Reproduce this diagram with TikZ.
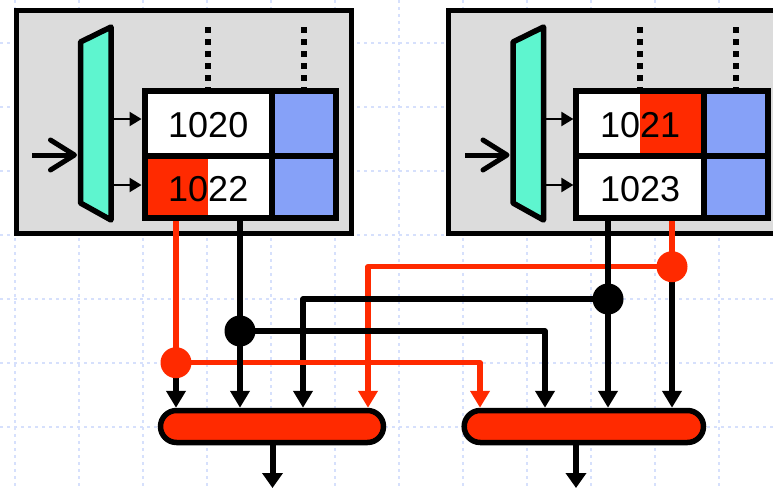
\documentclass[tikz,border=0pt]{standalone}
\usepackage{fontspec}
\setmainfont{Liberation Sans}
\usetikzlibrary{arrows.meta}
\definecolor{redc}{RGB}{255,42,0}
\definecolor{bluec}{RGB}{134,161,248}
\definecolor{aquac}{RGB}{94,245,207}
\definecolor{grayc}{RGB}{220,220,220}
\definecolor{gridc}{RGB}{214,224,252}
\begin{document}
\begin{tikzpicture}[x=1pt,y=-1pt,
  gridl/.style={draw=gridc,line width=1.1pt,dash pattern=on 3pt off 4pt},
  panel/.style={draw,line width=5pt,fill=grayc,rectangle,inner sep=0pt,outer sep=0pt},
  muxst/.style={draw,line width=5.5pt,fill=aquac,line join=round},
  inarrow/.style={line width=5pt,-{Straight Barb[length=24pt,width=30pt,round]}},
  smallarrow/.style={line width=2.2pt,-{Triangle[length=12pt,width=14pt]}},
  cell/.style={draw,line width=6pt,rectangle,inner sep=0pt,text height=29.3pt,text depth=0pt,font=\fontsize{36}{40}\selectfont},
  widecell/.style={cell,minimum width=127.4pt},
  narrowcell/.style={cell,minimum width=64.2pt,fill=bluec},
  toprow/.style={minimum height=64.5pt},
  botrow/.style={minimum height=62.5pt},
  halfleft/.style={path picture={\fill[redc] (path picture bounding box.south west) rectangle (path picture bounding box.north);}},
  halfright/.style={path picture={\fill[redc] (path picture bounding box.south) rectangle (path picture bounding box.north east);}},
  dotline/.style={line width=6pt,dash pattern=on 6pt off 6pt},
  dotnode/.style={circle,inner sep=0pt,minimum size=31pt},
  oval/.style={draw,line width=5.5pt,fill=redc,rounded corners=16pt,minimum height=32pt,inner sep=0pt},
  blackw/.style={line width=5.2pt,draw=black,line join=round},
  redw/.style={line width=5.2pt,draw=redc,line join=round},
  blackarrow/.style={blackw,-{Triangle[length=17pt,width=19pt]}},
  redarrow/.style={redw,-{Triangle[length=17pt,width=19pt]}},
  outarrow/.style={line width=6pt,-{Triangle[length=15pt,width=20pt]}}
]
\useasboundingbox (0,0) rectangle (773,487);
% background grid
\foreach \x in {15,79,...,783} \draw[gridl] (\x,0) -- (\x,487);
\foreach \y in {43,107,...,491} \draw[gridl] (0,\y) -- (773,\y);

% panels
\node[panel,minimum width=335.7pt,minimum height=222pt] (boxL) at (183.85,122) {};
\node[panel,minimum width=351.3pt,minimum height=222pt] (boxR) at (624.35,122) {};

% multiplexers
\draw[muxst] (80.5,42) -- (111,27) -- (111,220) -- (80.5,203) -- cycle;
\draw[muxst] (513,42) -- (543.5,27) -- (543.5,220) -- (513,203) -- cycle;
\coordinate (muxLin) at (77,155);
\coordinate (muxRin) at (509.5,155);
\coordinate (inL) at (32,155);
\coordinate (inR) at (465,155);
\coordinate (muxLo1) at (113.5,119);
\coordinate (muxLo2) at (113.5,185);
\coordinate (muxRo1) at (546,119);
\coordinate (muxRo2) at (546,185);

% tables
\node[widecell,toprow,fill=white] (cellL11) at (208.25,123.25) {1020};
\node[narrowcell,toprow] (cellL12) at (304,123.25) {};
\node[widecell,botrow,fill=white,halfleft] (cellL21) at (208.25,186.75) {1022};
\node[narrowcell,botrow] (cellL22) at (304,186.75) {};
\node[widecell,toprow,fill=white,halfright] (cellR11) at (640.1,123.25) {1021};
\node[narrowcell,toprow] (cellR12) at (735.9,123.25) {};
\node[widecell,botrow,fill=white] (cellR21) at (640.1,186.75) {1023};
\node[narrowcell,botrow] (cellR22) at (735.9,186.75) {};

% input arrows and mux outputs
\draw[inarrow] (inL) -- (muxLin);
\draw[inarrow] (inR) -- (muxRin);
\draw[smallarrow] (muxLo1) -- (muxLo1 -| cellL11.west);
\draw[smallarrow] (muxLo2) -- (muxLo2 -| cellL21.west);
\draw[smallarrow] (muxRo1) -- (muxRo1 -| cellR11.west);
\draw[smallarrow] (muxRo2) -- (muxRo2 -| cellR21.west);

% dotted lines above tables
\foreach \c in {cellL11,cellL12,cellR11,cellR12}
  \draw[dotline] ([yshift=60.7pt]\c.north) -- ([yshift=-2pt]\c.north);

% ovals
\node[oval,minimum width=223pt] (ovalL) at (272,426.5) {};
\node[oval,minimum width=239.3pt] (ovalR) at (583.85,426.5) {};
\coordinate (outL) at (272.5,488);
\coordinate (outR) at (576,488);
\draw[outarrow] (outL |- ovalL.south) -- (outL);
\draw[outarrow] (outR |- ovalR.south) -- (outR);

% junction dots positions
\coordinate (xR1) at (480,0);
\coordinate (xR2) at (545,0);
\coordinate (xL3) at (303,0);
\coordinate (xL4) at (368,0);
\node[dotnode] (dotA) at (176,362.7) {};
\node[dotnode] (dotB) at (240,331) {};
\node[dotnode] (dotC) at (608,299) {};
\node[dotnode] (dotD) at (672,266.7) {};

% wires
\draw[redarrow] (dotD.center) -| (xL4 |- ovalL.north);
\draw[blackarrow] (dotC.center) -| (xL3 |- ovalL.north);
\draw[blackarrow] (dotB.center) -| (xR2 |- ovalR.north);
\draw[redarrow] (dotA.center) -| (xR1 |- ovalR.north);
\draw[redw] (dotA |- cellL21.south) -- (dotA.center);
\draw[blackarrow] (dotA.center) -- (dotA |- ovalL.north);
\draw[blackw] (dotB |- cellL21.south) -- (dotB.center);
\draw[blackarrow] (dotB.center) -- (dotB |- ovalL.north);
\draw[blackw] (dotC |- cellR21.south) -- (dotC.center);
\draw[blackarrow] (dotC.center) -- (dotC |- ovalR.north);
\draw[redw] (dotD |- cellR21.south) -- (dotD.center);
\draw[blackarrow] (dotD.center) -- (dotD |- ovalR.north);

% dots
\fill[redc] (dotA) circle (15.5pt);
\fill[black] (dotB) circle (15.5pt);
\fill[black] (dotC) circle (15.5pt);
\fill[redc] (dotD) circle (15.5pt);
\end{tikzpicture}
\end{document}
